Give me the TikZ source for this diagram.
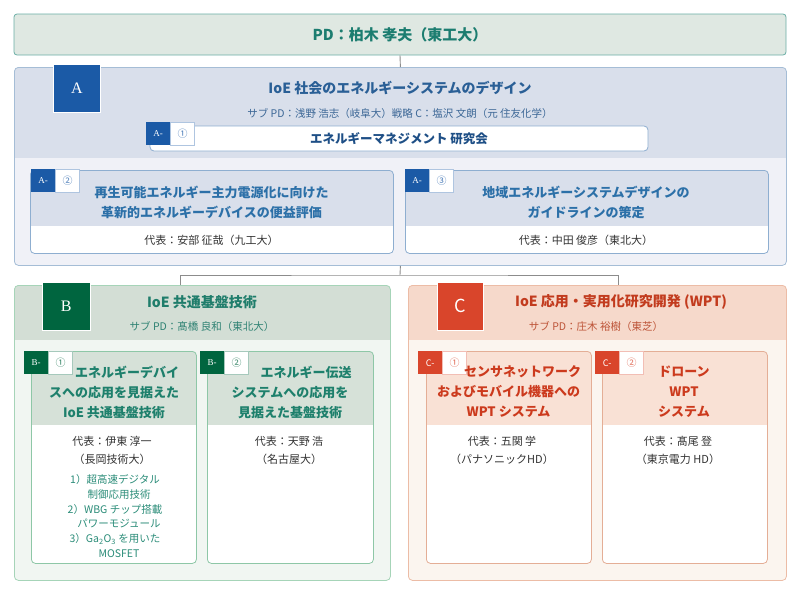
\documentclass[tikz,border=0pt]{standalone}
\usepackage{fontspec}
\usepackage{tikz}
\usetikzlibrary{positioning}
\setmainfont{Noto Sans CJK JP}
\newfontfamily\lblserif{Liberation Serif}

\definecolor{pdfill}{HTML}{DFE8E2}
\definecolor{pdline}{HTML}{6AAEA5}
\definecolor{pdtext}{HTML}{1C7D70}
\definecolor{conn}{HTML}{8C8C8C}
\definecolor{repgray}{HTML}{333333}
% A
\definecolor{ahead}{HTML}{D9DFEB}
\definecolor{abody}{HTML}{F0F1F7}
\definecolor{aline}{HTML}{A5BDD6}
\definecolor{ablue}{HTML}{1B5AA6}
\definecolor{atext}{HTML}{2A5F96}
\definecolor{asub}{HTML}{3C6796}
\definecolor{acard}{HTML}{8EAED0}
\definecolor{a1text}{HTML}{1E4F86}
\definecolor{ahd}{HTML}{2C70A8}
% B
\definecolor{bhead}{HTML}{D3DED5}
\definecolor{bbody}{HTML}{F1F6F2}
\definecolor{bline}{HTML}{A6D4B8}
\definecolor{bgreen}{HTML}{00653F}
\definecolor{btext}{HTML}{1F7D6B}
\definecolor{bsub}{HTML}{2F8273}
\definecolor{bcard}{HTML}{8EC7A7}
\definecolor{bcardhead}{HTML}{D6E1D8}
\definecolor{bhd}{HTML}{1E806C}
\definecolor{blist}{HTML}{2A8C78}
% C
\definecolor{chead}{HTML}{F6D9CB}
\definecolor{cbody}{HTML}{FBF5EF}
\definecolor{cline}{HTML}{ECBCA6}
\definecolor{cred}{HTML}{D9452B}
\definecolor{ctext}{HTML}{C23B1E}
\definecolor{csub}{HTML}{BD5438}
\definecolor{ccard}{HTML}{E4AE96}
\definecolor{ccardhead}{HTML}{F9E1D5}
\definecolor{chd}{HTML}{CC3A1D}

\begin{document}
\begin{tikzpicture}[
    x=1pt, y=1pt,
    panel/.style n args={4}{draw=#1, fill=#3, rounded corners=4pt, line width=0.8pt,
        anchor=north west, inner sep=0pt,
        path picture={\fill[#2, sharp corners] (path picture bounding box.north west)
            rectangle ([yshift=-#4pt]path picture bounding box.north east);}},
    lbl/.style={fill=#1, draw=white, line width=0.6pt, text=white, inner sep=0pt,
                anchor=north west, minimum width=47pt, minimum height=48pt},
    tag/.style={fill=#1, text=white, inner sep=0pt, anchor=north west,
                minimum width=24pt, minimum height=23pt, font=\lblserif\fontsize{9}{9}\selectfont},
    num/.style={fill=white, draw=#1!35, line width=0.4pt, text=#1!80, inner sep=0pt,
                minimum width=24pt, minimum height=23pt, font=\fontsize{10}{10}\selectfont},
    ttl/.style={font=\fontsize{14}{16}\selectfont\bfseries},
    sub/.style={font=\fontsize{10.5}{12}\selectfont},
    hd/.style={font=\fontsize{13}{20}\selectfont\bfseries, align=center, text=#1},
    rep/.style={font=\fontsize{11}{18}\selectfont, align=center, text=repgray},
    lst/.style={font=\fontsize{10.5}{14.8}\selectfont, align=center, text=blist},
    link/.style={draw=conn, line width=0.9pt},
]
\useasboundingbox (0,0) rectangle (800,-595);

% ── PD ───────────────────────────────────────────────────────
\node[draw=pdline, fill=pdfill, rounded corners=3pt, line width=0.8pt,
      minimum width=772pt, minimum height=41pt, inner sep=0pt,
      font=\fontsize{15}{15}\selectfont\bfseries, text=pdtext] (PD) at (400,-34.5) {PD：柏木 孝夫（東工大）};

% ── A ────────────────────────────────────────────────────────
\node[panel={aline}{ahead}{abody}{91}, minimum width=772pt, minimum height=198pt] (A) at (14,-67) {};
\node[lbl=ablue, font=\lblserif\fontsize{16}{16}\selectfont] (Albl) at (53,-64) {A};
\node[ttl, text=atext] (Attl) at (400,-88) {IoE 社会のエネルギーシステムのデザイン};
\node[sub, text=asub] (Asub) at (400,-113) {サブ PD：浅野 浩志（岐阜大）戦略 C：塩沢 文朗（元 住友化学）};

\node[draw=acard, fill=white, rounded corners=4pt, line width=0.8pt,
      minimum width=498pt, minimum height=25pt, inner sep=0pt,
      font=\fontsize{12.5}{12.5}\selectfont\bfseries, text=a1text] (A1) at (399,-138.5) {エネルギーマネジメント 研究会};
\node[tag=ablue] (A1tag) at (146,-122) {A-};
\node[num=ablue, right=0pt of A1tag] (A1num) {①};

\node[panel={acard}{ahead}{white}{56}, minimum width=363pt, minimum height=83pt] (A2) at (30,-170) {};
\node[tag=ablue] (A2tag) at (31,-169) {A-};
\node[num=ablue, right=0pt of A2tag] (A2num) {②};
\node[hd=ahd] (A2hd) at (211.5,-202) {再生可能エネルギー主力電源化に向けた\\革新的エネルギーデバイスの便益評価};
\node[rep] (A2rep) at (211.5,-240) {代表：安部 征哉（九工大）};

\node[panel={acard}{ahead}{white}{56}, minimum width=363pt, minimum height=83pt] (A3) at (405,-170) {};
\node[tag=ablue] (A3tag) at (405,-169) {A-};
\node[num=ablue, right=0pt of A3tag] (A3num) {③};
\node[hd=ahd] (A3hd) at (586,-202) {地域エネルギーシステムデザインの\\ガイドラインの策定};
\node[rep] (A3rep) at (586,-240) {代表：中田 俊彦（東北大）};

% ── B ────────────────────────────────────────────────────────
\node[panel={bline}{bhead}{bbody}{55}, minimum width=376pt, minimum height=295pt] (B) at (14,-285) {};
\node[lbl=bgreen, minimum width=48pt, font=\lblserif\fontsize{16}{16}\selectfont] (Blbl) at (42,-282) {B};
\node[ttl, text=btext] (Bttl) at (202,-302) {IoE 共通基盤技術};
\node[sub, text=bsub] (Bsub) at (202,-326) {サブ PD：髙橋 良和（東北大）};

\node[panel={bcard}{bcardhead}{white}{74}, minimum width=165pt, minimum height=212pt] (B1) at (31,-351) {};
\node[tag=bgreen] (B1tag) at (24,-351) {B-};
\node[num=bgreen, right=0pt of B1tag] (B1num) {①};
\node[hd=bhd] (B1hd) at (114,-392) {\hspace*{26pt}エネルギーデバイ\\スへの応用を見据えた\\IoE 共通基盤技術};
\node[rep] (B1rep) at (112,-450) {代表：伊東 淳一\\（長岡技術大）};
\node[lst] (B1lst) at (115,-516) {1）超高速デジタル\\\hspace*{8pt}制御応用技術\\2）WBG チップ搭載\\\hspace*{8pt}パワーモジュール\\3）Ga\textsubscript{2}O\textsubscript{3} を用いた\\\hspace*{8pt}MOSFET};

\node[panel={bcard}{bcardhead}{white}{74}, minimum width=166pt, minimum height=212pt] (B2) at (207,-351) {};
\node[tag=bgreen] (B2tag) at (200,-351) {B-};
\node[num=bgreen, right=0pt of B2tag] (B2num) {②};
\node[hd=bhd] (B2hd) at (290,-392) {\hspace*{32pt}エネルギー伝送\\システムへの応用を\\見据えた基盤技術};
\node[rep] (B2rep) at (289,-450) {代表：天野 浩\\（名古屋大）};

% ── C ────────────────────────────────────────────────────────
\node[panel={cline}{chead}{cbody}{55}, minimum width=378pt, minimum height=295pt] (C) at (408,-285) {};
\node[lbl=cred, minimum width=46pt, font=\fontsize{18}{18}\selectfont] (Clbl) at (437,-282) {C};
\node[ttl, text=ctext] (Cttl) at (621,-302) {IoE 応用・実用化研究開発 (WPT)};
\node[sub, text=csub] (Csub) at (596,-326) {サブ PD：庄木 裕樹（東芝）};

\node[panel={ccard}{ccardhead}{white}{74}, minimum width=165pt, minimum height=212pt] (C1) at (426,-351) {};
\node[tag=cred, font=\fontsize{9}{9}\selectfont] (C1tag) at (418,-351) {C-};
\node[num=cred, right=0pt of C1tag] (C1num) {①};
\node[hd=chd] (C1hd) at (508.5,-392) {\hspace*{28pt}センサネットワーク\\およびモバイル機器への\\WPT システム};
\node[rep] (C1rep) at (502,-450) {代表：五関 学\\（パナソニックHD）};

\node[panel={ccard}{ccardhead}{white}{74}, minimum width=165pt, minimum height=212pt] (C2) at (602,-351) {};
\node[tag=cred, font=\fontsize{9}{9}\selectfont] (C2tag) at (595,-351) {C-};
\node[num=cred, right=0pt of C2tag] (C2num) {②};
\node[hd=chd] (C2hd) at (684,-392) {ドローン\\WPT\\システム};
\node[rep] (C2rep) at (678,-450) {代表：髙尾 登\\（東京電力 HD）};

% ── links ────────────────────────────────────────────────────
\coordinate (split) at (400,-275);
\coordinate (Bjoin) at (180,-285);
\coordinate (Cjoin) at (618,-285);
\draw[link] (PD.south) -- (A.north);
\draw[link] (A.south) -- (split);
\draw[link] (Bjoin) |- (split) -| (Cjoin);

\end{tikzpicture}
\end{document}
